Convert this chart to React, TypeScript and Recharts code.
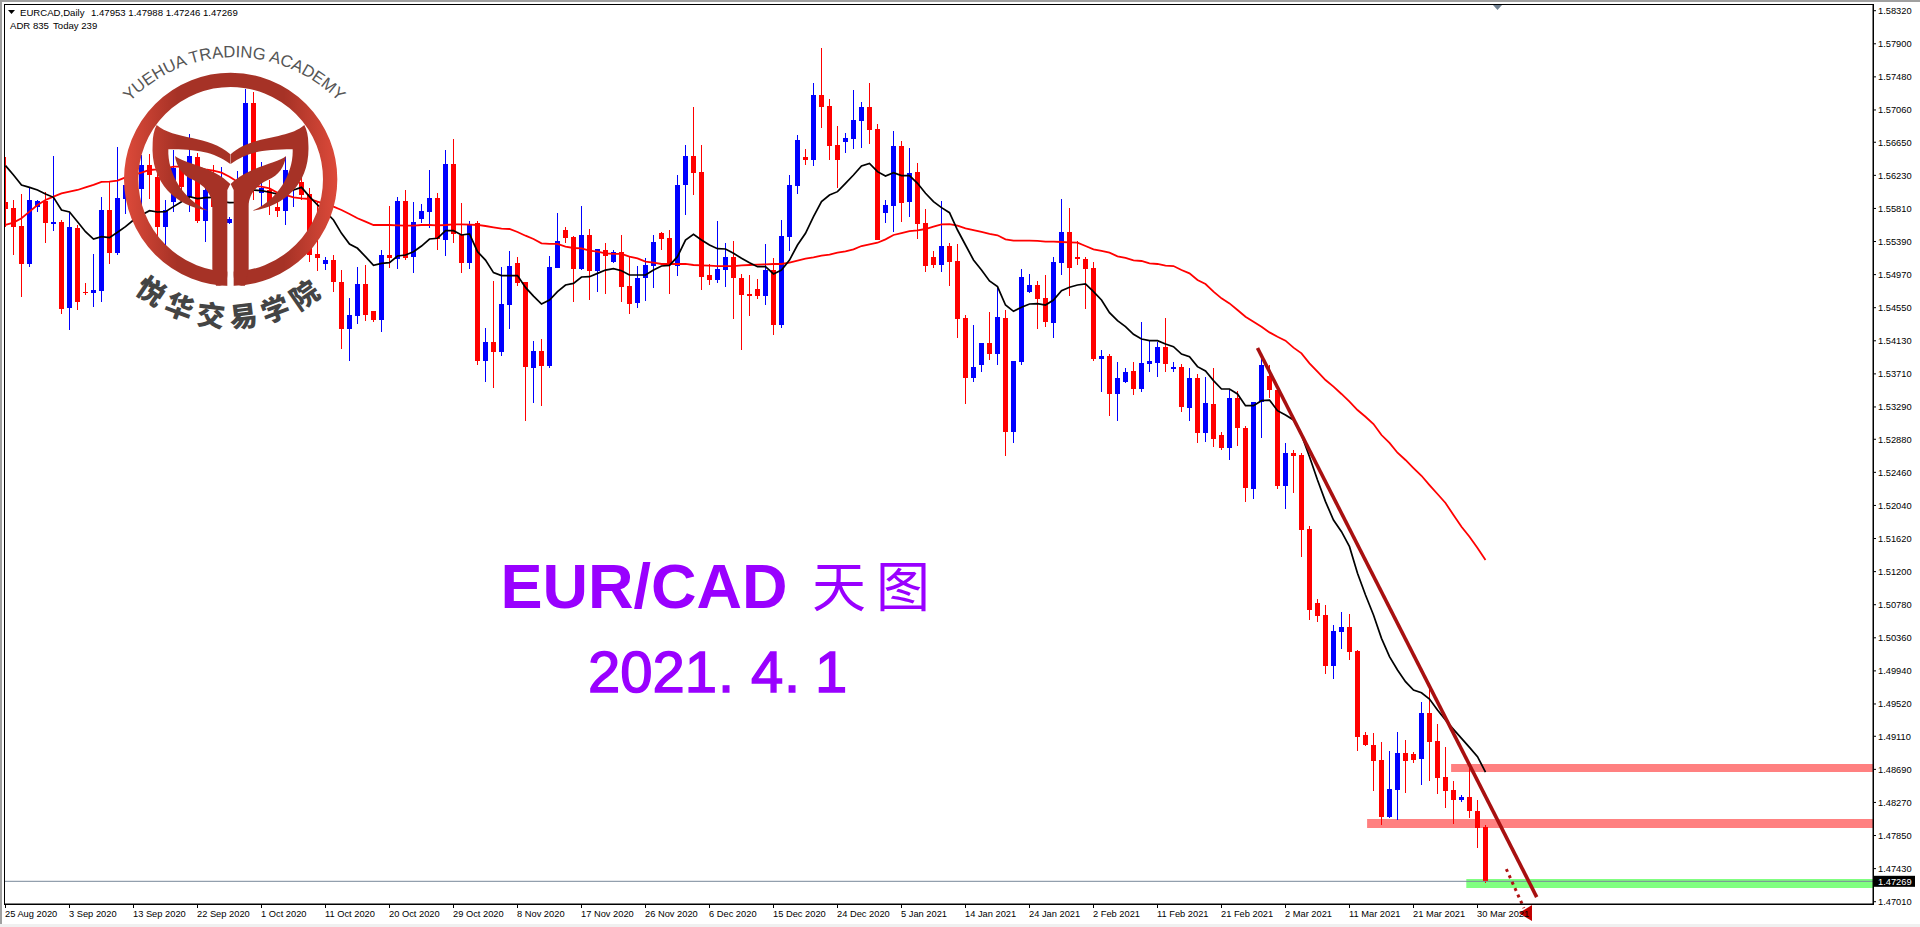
import { ComposedChart, Bar, Line, XAxis, YAxis, ReferenceArea, ReferenceLine, ReferenceDot } from "recharts";

// all prices in points (1/100000)
const highs = [
  156467, 155917, 155993, 156065, 155917, 156023, 156476, 155663, 155748, 155600,
  154859, 155232, 155960, 156150, 156594, 156213, 156340, 156488, 156501, 156298,
  155917, 156552, 156425, 156755, 156510, 156256, 156361, 156340, 155697, 156290,
  157322, 157292, 156395, 156171, 155960, 156467, 156383, 156213, 156074, 155896,
  155198, 155219, 155029, 154677, 155071, 155092, 154508, 155283, 155841, 155960,
  156044, 155896, 155866, 156298, 156002, 156552, 156687, 155883, 155651, 155655,
  154296, 154893, 155071, 155274, 155198, 154876, 154127, 154153, 155206, 155756,
  155579, 155460, 155841, 155549, 155295, 155367, 155282, 155473, 155198, 155079,
  155177, 155473, 155515, 155536, 156234, 156615, 157098, 156615, 155105, 155650,
  155367, 155397, 154978, 154965, 154914, 155359, 155181, 155663, 156234, 156742,
  156564, 157402, 157847, 157199, 156856, 156768, 157313, 157161, 157402, 156882,
  155917, 156793, 156666, 156577, 156382, 155803, 155270, 155904, 155367, 155359,
  154453, 154330, 154102, 154495, 154826, 154521, 153873, 155041, 154978, 154889,
  154965, 155194, 155930, 155816, 155397, 155194, 155130, 154013, 153962, 153861,
  153785, 153861, 154369, 154127, 154115, 154419, 153861, 153835, 153785, 153708,
  153670, 153785, 152972, 153505, 153493, 153048, 153353, 153950, 153823, 153505,
  152833, 152744, 152701, 151779, 150852, 150776, 150522, 150687, 150662, 150205,
  149164, 149151, 149037, 148923, 149164, 149062, 148910, 149545, 149739, 149266,
  148974, 148542, 148364, 148766, 148301, 147988,
];

const lows = [
  155579, 155219, 154690, 155071, 155769, 155367, 155524, 154470, 154267, 154521,
  154711, 154563, 154627, 155105, 155219, 155740, 155917, 155748, 155926, 155452,
  155346, 155769, 155917, 155769, 155621, 155388, 155663, 155748, 155613, 155748,
  156044, 155917, 155833, 155727, 155706, 155600, 155833, 155917, 155134, 155020,
  155029, 154754, 154026, 153878, 154343, 154381, 154373, 154242, 155050, 155041,
  155156, 154986, 155621, 155558, 155283, 155206, 155367, 154986, 155037, 153823,
  153611, 153526, 153937, 154279, 154825, 153112, 153336, 153302, 153784, 155054,
  155367, 154622, 155028, 154648, 154749, 154724, 155113, 154626, 154470, 154546,
  154635, 154800, 155282, 154724, 154952, 155727, 155980, 154775, 154838, 154863,
  154813, 154406, 154013, 154445, 154660, 154584, 154203, 154292, 155270, 155993,
  156361, 156349, 156831, 156425, 156069, 156514, 156564, 156577, 156628, 155409,
  155625, 155511, 155638, 155701, 155422, 155003, 155054, 155003, 154825, 154165,
  153328, 153607, 153734, 153886, 153823, 152668, 152833, 153823, 154737, 154280,
  154305, 154165, 154965, 154699, 155092, 154534, 153873, 153480, 153175, 153112,
  153594, 153442, 153480, 153734, 153670, 153734, 153734, 153226, 153112, 152833,
  152845, 152782, 152744, 152617, 152795, 152084, 152122, 152896, 153404, 152249,
  151995, 152198, 151390, 150586, 150560, 149900, 149837, 150218, 150078, 148923,
  148986, 148415, 147983, 148072, 148047, 148390, 148771, 148491, 148542, 148377,
  148199, 147996, 148275, 148072, 147692, 147246,
];

const opens = [
  155896, 155811, 155587, 155105, 155833, 155905, 155617, 155642, 154551, 155562,
  154745, 154737, 154762, 155790, 155244, 155930, 156086, 156057, 156361, 156213,
  155579, 155888, 156383, 155960, 156463, 155651, 156213, 155917, 155630, 155917,
  156213, 157149, 156010, 156044, 155833, 155778, 156086, 156150, 155993, 155232,
  155105, 155156, 154876, 154280, 154445, 154851, 154508, 154394, 155219, 155168,
  155905, 155198, 155676, 155765, 155943, 155409, 156374, 155473, 155118, 155621,
  153873, 154114, 153988, 154584, 155117, 154876, 153784, 154000, 153810, 155054,
  155536, 155447, 155041, 155473, 155016, 155282, 155130, 155257, 154825, 154610,
  154927, 155079, 155498, 155435, 155079, 156107, 156476, 156272, 154965, 154902,
  155028, 155193, 154927, 154724, 154787, 154698, 155028, 154330, 155447, 156095,
  156463, 156425, 157250, 157110, 156615, 156653, 156691, 156920, 157098, 156818,
  155752, 155841, 156603, 155892, 156272, 155625, 155193, 155092, 155333, 155143,
  154419, 153658, 153823, 154102, 153962, 154419, 152972, 153861, 154749, 154838,
  154673, 154356, 155117, 155511, 155194, 155168, 155054, 153899, 153937, 153455,
  153607, 153747, 153518, 153835, 153848, 154051, 153772, 153797, 153277, 153658,
  152960, 153328, 152934, 152769, 153404, 153023, 152249, 153353, 153683, 153505,
  152287, 152706, 152680, 151741, 150802, 150649, 150002, 150433, 150497, 150192,
  149126, 148999, 148809, 148085, 148428, 148897, 148885, 148821, 149405, 149050,
  148593, 148428, 148301, 148339, 148161, 147953,
];

const closes = [
  155803, 155579, 155105, 155917, 155905, 155630, 155638, 154534, 155574, 154627,
  154737, 154775, 155790, 155244, 155943, 156108, 156256, 156361, 156235, 155579,
  155790, 156319, 156086, 156476, 155651, 156044, 155833, 156171, 155676, 156171,
  157149, 156256, 156065, 155896, 155778, 156298, 156340, 155981, 155219, 155181,
  155156, 154876, 154280, 154457, 154851, 154457, 154394, 155219, 155181, 155905,
  155181, 155638, 155778, 155943, 155422, 156374, 155486, 155118, 155613, 153874,
  154114, 153988, 154597, 155079, 154859, 153797, 154000, 153810, 155067, 155397,
  155435, 155041, 155473, 155016, 155295, 155206, 155253, 154813, 154597, 154927,
  155092, 155384, 155422, 155092, 156107, 156476, 156260, 154940, 154902, 155041,
  155193, 154927, 154711, 154698, 154698, 155028, 154330, 155460, 156107, 156679,
  156425, 157250, 157098, 156603, 156425, 156704, 156933, 157098, 156806, 155409,
  155854, 156603, 155879, 156256, 155612, 155079, 155092, 155333, 155130, 154406,
  153658, 153797, 154102, 153962, 154432, 152972, 153873, 154940, 154838, 154660,
  154369, 155130, 155511, 155054, 155168, 155041, 153899, 153937, 153455, 153658,
  153734, 153518, 153848, 153873, 154051, 153835, 153797, 153290, 153658, 152960,
  153340, 152883, 152769, 153404, 153023, 152261, 153353, 153823, 153505, 152287,
  152706, 152668, 151728, 150713, 150637, 150002, 150446, 150497, 150180, 149101,
  148999, 148796, 148085, 148440, 148897, 148796, 148809, 149405, 149037, 148580,
  148415, 148301, 148339, 148161, 147945, 147269,
];

// fast MA (black)
const maFast = [
  156353, 156235, 156108, 156078, 156044, 155993, 155951, 155790, 155765, 155642,
  155515, 155422, 155452, 155439, 155507, 155579, 155663, 155727, 155782, 155765,
  155769, 155833, 155896, 155960, 155934, 155947, 155951, 155896, 155883, 155888,
  155960, 156044, 156036, 156015, 155993, 156015, 156044, 156078, 155960, 155854,
  155769, 155663, 155494, 155359, 155304, 155198, 155088, 155113, 155122, 155206,
  155219, 155261, 155333, 155422, 155431, 155528, 155528, 155473, 155486, 155261,
  155155, 154995, 154957, 154957, 154957, 154808, 154698, 154597, 154648, 154753,
  154838, 154859, 154940, 154944, 154986, 155028, 155045, 155020, 154965, 154965,
  154965, 155028, 155079, 155088, 155198, 155409, 155481, 155409, 155346, 155299,
  155295, 155240, 155177, 155122, 155071, 155071, 154978, 155028, 155155, 155346,
  155494, 155705, 155896, 155980, 156023, 156129, 156234, 156349, 156382, 156277,
  156222, 156264, 156226, 156226, 156129, 156002, 155896, 155820, 155756, 155536,
  155346, 155156, 155029, 154889, 154817, 154584, 154504, 154555, 154597, 154601,
  154584, 154648, 154766, 154809, 154838, 154851, 154754, 154648, 154487, 154385,
  154309, 154212, 154153, 154132, 154132, 154089, 154055, 153962, 153928, 153802,
  153747, 153624, 153518, 153518, 153455, 153306, 153306, 153370, 153378, 153243,
  153188, 153125, 152934, 152659, 152363, 152088, 151855, 151707, 151517, 151178,
  150903, 150649, 150353, 150120, 149951, 149803, 149697, 149663, 149583, 149443,
  149316, 149198, 149084, 148969, 148851, 148656,
];

// slow MA (red)
const maSlow = [
  155600, 155630, 155685, 155769, 155854, 155917, 155960, 156002, 156023, 156044,
  156078, 156108, 156146, 156150, 156163, 156205, 156235, 156264, 156298, 156306,
  156319, 156340, 156340, 156332, 156328, 156306, 156290, 156264, 156213, 156150,
  156108, 156095, 156086, 156065, 156010, 155981, 155951, 155938, 155930, 155896,
  155866, 155833, 155790, 155740, 155685, 155642, 155600, 155600, 155600, 155596,
  155591, 155591, 155600, 155600, 155596, 155600, 155608, 155608, 155604, 155600,
  155587, 155570, 155553, 155549, 155511, 155464, 155422, 155367, 155359, 155359,
  155325, 155308, 155304, 155274, 155261, 155240, 155232, 155232, 155198, 155177,
  155134, 155122, 155105, 155105, 155105, 155105, 155092, 155088, 155083, 155079,
  155079, 155079, 155088, 155092, 155096, 155101, 155105, 155105, 155122, 155147,
  155172, 155189, 155210, 155223, 155248, 155265, 155291, 155333, 155354, 155375,
  155418, 155473, 155498, 155523, 155532, 155549, 155579, 155608, 155612, 155591,
  155557, 155536, 155511, 155486, 155469, 155418, 155401, 155401, 155401, 155397,
  155388, 155388, 155384, 155380, 155376, 155333, 155291, 155270, 155249, 155202,
  155181, 155151, 155143, 155113, 155105, 155084, 155079, 155029, 154986, 154902,
  154851, 154754, 154669, 154605, 154521, 154436, 154373, 154309, 154237, 154182,
  154132, 154043, 153971, 153844, 153738, 153632, 153548, 153455, 153357, 153251,
  153166, 153074, 152934, 152833, 152709, 152617, 152515, 152417, 152299, 152185,
  152071, 151919, 151770, 151643, 151500, 151347,
];

const dateLabels = [
  "25 Aug 2020", "3 Sep 2020", "13 Sep 2020", "22 Sep 2020", "1 Oct 2020", "11 Oct 2020",
  "20 Oct 2020", "29 Oct 2020", "8 Nov 2020", "17 Nov 2020", "26 Nov 2020", "6 Dec 2020",
  "15 Dec 2020", "24 Dec 2020", "5 Jan 2021", "14 Jan 2021", "24 Jan 2021", "2 Feb 2021",
  "11 Feb 2021", "21 Feb 2021", "2 Mar 2021", "11 Mar 2021", "21 Mar 2021", "30 Mar 2021",
];

const priceLabels = [
  "1.58320", "1.57900", "1.57480", "1.57060", "1.56650", "1.56230", "1.55810", "1.55390",
  "1.54970", "1.54550", "1.54130", "1.53710", "1.53290", "1.52880", "1.52460", "1.52040",
  "1.51620", "1.51200", "1.50780", "1.50360", "1.49940", "1.49520", "1.49110", "1.48690",
  "1.48270", "1.47850", "1.47430", "1.47010",
];

const lastPrice = 1.47269;

// drawn objects on the chart: [from bar, top price, bottom price]
const resistanceZones = [
  [180.7, 1.48758, 1.48656],
  [170.2, 1.4806, 1.47945],
];
const supportZone = [182.6, 1.47298, 1.47184];
const trendLine = [
  { x: 156.5, y: 1.54038 },
  { x: 191.4, y: 1.47069 },
];
const dottedArrow = [
  { x: 187.6, y: 1.47425 },
  { x: 189.8, y: 1.4693 },
];

const LABEL_STEP = 8;
const BAR_MIN = -0.1875;
const BAR_MAX = 233.4375;
const PRICE_MIN = 1.46981;
const PRICE_MAX = 1.58405;
const UP = "#0000ff";
const DOWN = "#ff0000";
const TICK_FONT = "'Liberation Sans', Arial, sans-serif";

const rows = highs.map((high, i) => ({
  i,
  range: [lows[i] / 100000, highs[i] / 100000],
  open: opens[i] / 100000,
  close: closes[i] / 100000,
  high: high / 100000,
  low: lows[i] / 100000,
  fast: maFast[i] / 100000,
  slow: maSlow[i] / 100000,
}));

function Candle(props: any) {
  const { x, y, width, height, payload } = props;
  const { open, close, high, low } = payload;
  const color = close >= open ? UP : DOWN;
  const perPrice = height / (high - low);
  const mid = x + width / 2;
  const top = y + (high - Math.max(open, close)) * perPrice;
  const bodyHeight = Math.max(Math.abs(open - close) * perPrice, 1);
  return (
    <g shapeRendering="crispEdges">
      <rect x={mid - 0.5} y={y} width={1} height={height} fill={color} />
      <rect x={mid - 2.5} y={top} width={5} height={bodyHeight} fill={color} />
    </g>
  );
}

function DateTick({ x, y, payload }: any) {
  return (
    <text x={x - 0.5} y={y + 9} fontSize={9.3} fontFamily={TICK_FONT} fill="#000" textAnchor="start">
      {dateLabels[payload.value / LABEL_STEP]}
    </text>
  );
}

function PriceTick({ x, y, payload }: any) {
  if (payload.value === lastPrice) {
    return (
      <g>
        <rect x={1873} y={y - 5.5} width={42} height={11} fill="#000" />
        <text x={x} y={y + 3.5} fontSize={9.3} fontFamily={TICK_FONT} fill="#fff">
          {lastPrice.toFixed(5)}
        </text>
      </g>
    );
  }
  return (
    <text x={x} y={y + 3.5} fontSize={9.3} fontFamily={TICK_FONT} fill="#000">
      {payload.value.toFixed(5)}
    </text>
  );
}

function ArrowHead({ cx, cy }: any) {
  return <path d={`M${cx + 6},${cy - 8} L${cx + 6},${cy + 8} L${cx - 7},${cy} Z`} fill="#c00000" />;
}

function Logo() {
  // outline traced at 3x, hence the scale
  const half = (
    <>
      <path d="M50,45 C100,90 210,75 271,133 L271,162 C220,125 170,118 85,118 C82,190 130,270 205,302 C110,290 30,220 38,100 C38,80 42,60 50,45 Z" />
      <path d="M105,138 C130,160 220,170 271,222 L262,240 L262,495 C262,520 245,530 228,527 L217,478 L217,290 C217,250 190,225 160,210 C125,195 110,170 105,138 Z" />
    </>
  );
  return (
    <g>
      <defs>
        <linearGradient id="logoFill" gradientUnits="userSpaceOnUse" x1={-48} y1={0} x2={592} y2={0}>
          <stop offset="0" stopColor="#dd4a3a" />
          <stop offset="0.25" stopColor="#a63226" />
          <stop offset="0.75" stopColor="#a63226" />
          <stop offset="1" stopColor="#dd4a3a" />
        </linearGradient>
        <mask id="logoGap" maskUnits="userSpaceOnUse" x={-60} y={-120} width={660} height={680}>
          <rect x={-60} y={-120} width={660} height={680} fill="#fff" />
          <rect x={262} y={400} width={19} height={140} fill="#000" />
        </mask>
        <path id="logoTop" d="M126.7,105 A145,145 0 0 1 341.7,105" />
        <path id="logoBottom" d="M124.2,281 A146,146 0 0 0 337.2,281" />
      </defs>
      <g transform="translate(140,110) scale(0.3333)" fill="url(#logoFill)">
        <circle cx={272} cy={208} r={298.5} fill="none" stroke="url(#logoFill)" strokeWidth={43} mask="url(#logoGap)" />
        {half}
        <g transform="translate(543,0) scale(-1,1)" fill="#a63226">
          {half}
        </g>
      </g>
      <text fontFamily="'Liberation Sans', Arial, sans-serif" fontSize={16.6} fill="#555">
        <textPath href="#logoTop" startOffset="50%" textAnchor="middle">
          YUEHUA TRADING ACADEMY
        </textPath>
      </text>
      <text fontFamily="'Noto Sans CJK SC', sans-serif" fontWeight={900} fontSize={28} fill="#444" letterSpacing={7}>
        <textPath href="#logoBottom" startOffset="50%" textAnchor="middle">
          悦华交易学院
        </textPath>
      </text>
    </g>
  );
}

function Overlay() {
  const ui = { fontFamily: TICK_FONT, fontSize: 9.6, fill: "#000" };
  const purple = "#9900ff";
  return (
    <svg width={1920} height={927} style={{ position: "absolute", left: 0, top: 0, pointerEvents: "none" }}>
      {/* terminal frame */}
      <rect x={0} y={0} width={1920} height={2} fill="#a0a0a0" />
      <rect x={0} y={0} width={2} height={927} fill="#a0a0a0" />
      <rect x={0} y={924} width={1920} height={3} fill="#f0f0f0" />
      <rect x={4.5} y={4.5} width={1869} height={900} fill="none" stroke="#000" />
      <path d="M1493,5 L1502,5 L1497.5,10 Z" fill="#708090" />

      <path d="M8,10 L15,10 L11.5,14 Z" fill="#000" />
      <text {...ui} x={20} y={16}>EURCAD,Daily</text>
      <text {...ui} x={91} y={16}>1.47953 1.47988 1.47246 1.47269</text>
      <text {...ui} x={10} y={29}>ADR 835</text>
      <text {...ui} x={53} y={29}>Today 239</text>

      <Logo />

      <text x={500.5} y={608} fontFamily="'Liberation Sans', Arial, sans-serif" fontWeight={700} fontSize={63} fill={purple}>
        EUR/CAD
      </text>
      <text x={812} y={607} fontFamily="'Noto Sans CJK SC', sans-serif" fontWeight={400} fontSize={54} letterSpacing={10} fill={purple}>
        天图
      </text>
      <text y={692} fontFamily="'Liberation Sans', Arial, sans-serif" fontSize={58} fill={purple} stroke={purple} strokeWidth={1.4}>
        <tspan x={588}>2021</tspan>
        <tspan x={718}>.</tspan>
        <tspan x={751}>4</tspan>
        <tspan x={784}>.</tspan>
        <tspan x={815}>1</tspan>
      </text>
    </svg>
  );
}

export default function App() {
  const dateTicks = dateLabels.map((_, i) => i * LABEL_STEP);
  const priceTicks = [...priceLabels.map(Number), lastPrice];

  return (
    <div style={{ position: "absolute", left: 0, top: 0, width: 1920, height: 927, background: "#fff", overflow: "hidden" }}>
      <ComposedChart width={1920} height={927} data={rows} margin={{ top: 4, right: 0, bottom: 0, left: 4 }}>
        <XAxis
          dataKey="i"
          type="number"
          domain={[BAR_MIN, BAR_MAX]}
          ticks={dateTicks}
          interval={0}
          height={23}
          tick={<DateTick />}
          tickSize={4}
          tickMargin={0}
          stroke="#000"
          allowDataOverflow
        />
        <YAxis
          orientation="right"
          type="number"
          domain={[PRICE_MIN, PRICE_MAX]}
          ticks={priceTicks}
          interval={0}
          width={47}
          tick={<PriceTick />}
          tickSize={3}
          tickMargin={2}
          stroke="#000"
          allowDataOverflow
        />
        {resistanceZones.map(([from, top, bottom]) => (
          <ReferenceArea key={from} x1={from} x2={BAR_MAX} y1={bottom} y2={top} fill="#ff8080" fillOpacity={1} stroke="none" />
        ))}
        <ReferenceArea x1={supportZone[0]} x2={BAR_MAX} y1={supportZone[2]} y2={supportZone[1]} fill="#80ff80" fillOpacity={1} stroke="none" />
        <ReferenceLine y={lastPrice} stroke="#778899" strokeWidth={1} />
        <Bar dataKey="range" barSize={5} shape={<Candle />} isAnimationActive={false} />
        <Line dataKey="slow" type="linear" stroke="#ff0000" strokeWidth={1.8} dot={false} isAnimationActive={false} />
        <Line dataKey="fast" type="linear" stroke="#000000" strokeWidth={1.7} dot={false} isAnimationActive={false} />
        <ReferenceLine segment={trendLine} stroke="#a81010" strokeWidth={3.6} ifOverflow="visible" />
        <ReferenceLine segment={dottedArrow} stroke="#b01010" strokeWidth={3} strokeDasharray="3 4" ifOverflow="visible" />
        <ReferenceDot x={190.06} y={1.46866} r={1} shape={<ArrowHead />} ifOverflow="visible" />
      </ComposedChart>
      <Overlay />
    </div>
  );
}
